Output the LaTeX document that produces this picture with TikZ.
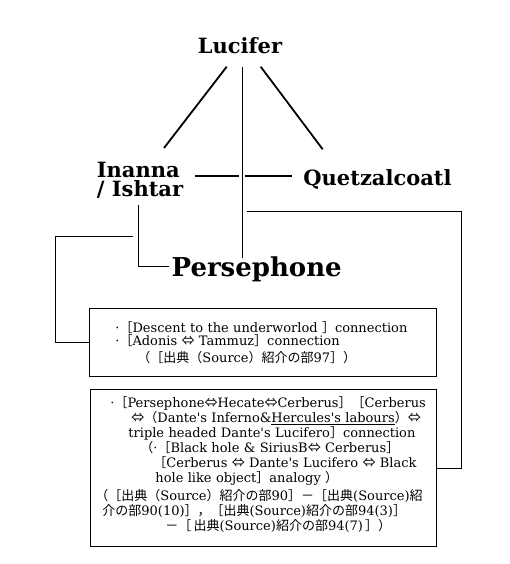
\documentclass[tikz,border=0pt]{standalone}
\usepackage{fontspec}
\setmainfont{DejaVu Serif}
\newfontfamily\cjk{Noto Sans CJK JP}
\usetikzlibrary{positioning}
\newcommand{\J}[1]{{\cjk #1}}
\newcommand{\q}{\textquotesingle}

\begin{document}
\begin{tikzpicture}[x=1pt, y=-1pt,
    every node/.style={inner sep=0pt},
    godname/.style={font=\bfseries\fontsize{21}{19}\selectfont},
    srcbox/.style={draw, line width=0.8pt, anchor=north west, align=left,
      inner xsep=4pt, inner ysep=0pt, font=\fontsize{13}{#1}\selectfont},
    link/.style={line width=0.8pt},
    boldlink/.style={line width=1.8pt},
  ]
  \useasboundingbox (0,0) rectangle (509,564);

  % ── names ───────────────────────────────────────────────────
  \node[godname, anchor=base] (lucifer) at (240,53.3) {Lucifer};
  \node[godname, anchor=north west, align=left] (inanna) at (96.7,162) {Inanna\\/ Ishtar};
  \node[godname, anchor=base] (quetz) at (377.5,185) {Quetzalcoatl};
  \node[godname, anchor=base, font=\bfseries\fontsize{26}{26}\selectfont] (perse) at (256.7,276.7) {Persephone};

  % ── source boxes ────────────────────────────────────────────
  \node[srcbox=13.5, text width=339pt, minimum height=68pt] (box1) at (89,308)
    {\hspace*{22pt}·\J{［}Descent to the underworlod \J{］}connection\\
     \hspace*{22pt}·\J{［}Adonis \J{⇔} Tammuz\J{］}connection\\[3pt]
     \hspace*{44pt}\J{（［出典（}Source\J{）紹介の部}97\J{］）}};

  \node[srcbox=15, text width=338pt, minimum height=157pt] (box2) at (90,389.3)
    {\hspace*{16pt}·\J{［}Persephone\J{⇔}Hecate\J{⇔}Cerberus\J{］［}Cerberus\\
     \hspace*{37pt}\J{⇔（}Dante\q s Inferno\&\underline{Hercules\q s labours}\J{）⇔}\\
     \hspace*{34pt}triple headed Dante\q s Lucifero\J{］}connection\\
     \hspace*{46pt}\J{（}·\J{［}Black hole \& SiriusB\J{⇔} Cerberus\J{］}\\
     \hspace*{59pt}\J{［}Cerberus \J{⇔} Dante\q s Lucifero \J{⇔} Black\\
     \hspace*{61pt}hole like object\J{］}analogy\ \J{）}\\[3pt]
     \hspace*{1pt}\J{（［出典（}Source\J{）紹介の部}90\J{］－［出典}(Source)\J{紹}\\
     \hspace*{8pt}\J{介の部}90(10)\J{］，［出典}(Source)\J{紹介の部}94(3)\J{］}\\
     \hspace*{71pt}\J{－［}\,\J{出典}(Source)\J{紹介の部}94(7)\,\J{］}\J{）}\\[-6pt]\mbox{}};

  % ── connector ends ──────────────────────────────────────────
  \coordinate (lucL) at (226.7,66.7);
  \coordinate (innT) at (164,148);
  \coordinate (lucR) at (260.7,66.7);
  \coordinate (quT)  at (322.7,149.3);
  \coordinate (lucB) at (242.7,66.7);
  \coordinate (perT) at (242.7,258);
  \coordinate (innE) at (195,176);
  \coordinate (gapL) at (239.3,176);
  \coordinate (gapR) at (245.3,176);
  \coordinate (quW)  at (291.7,176);
  \coordinate (innB) at (138.3,205);
  \coordinate (perW) at (169.3,266.7);
  \coordinate (innL) at (133.3,236.7);
  \coordinate (perR) at (246.7,211.7);

  \draw[boldlink] (lucL) -- (innT);
  \draw[boldlink] (lucR) -- (quT);
  \draw[boldlink] (innE) -- (gapL);
  \draw[boldlink] (gapR) -- (quW);
  \draw[link] (lucB) -- (perT);
  \draw[link] (innB) |- (perW);
  \draw[link] (innL) -- ++(-78.3,0) |- (box1.west);
  \draw[link] (perR) -- ++(215,0) |- (box2.east);
\end{tikzpicture}
\end{document}
